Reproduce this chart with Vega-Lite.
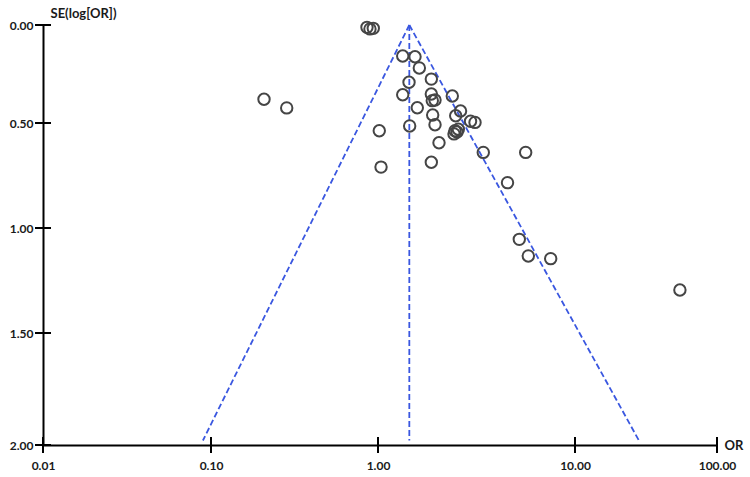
{
  "$schema": "https://vega.github.io/schema/vega-lite/v6.json",
  "width": 674,
  "height": 420,
  "autosize": "none",
  "padding": {"left": 43, "top": 25, "right": 33, "bottom": 32},
  "background": "white",
  "config": {"view": {"stroke": null}},
  "datasets": {
    "studies": [
      {"OR": 0.859, "SE": 0.012},
      {"OR": 0.895, "SE": 0.020},
      {"OR": 0.937, "SE": 0.017},
      {"OR": 1.335, "SE": 0.158},
      {"OR": 1.541, "SE": 0.162},
      {"OR": 1.621, "SE": 0.219},
      {"OR": 1.437, "SE": 0.292},
      {"OR": 1.865, "SE": 0.276},
      {"OR": 1.335, "SE": 0.356},
      {"OR": 1.865, "SE": 0.352},
      {"OR": 1.886, "SE": 0.386},
      {"OR": 1.947, "SE": 0.383},
      {"OR": 2.383, "SE": 0.362},
      {"OR": 1.583, "SE": 0.422},
      {"OR": 2.624, "SE": 0.439},
      {"OR": 1.895, "SE": 0.459},
      {"OR": 2.480, "SE": 0.463},
      {"OR": 2.949, "SE": 0.491},
      {"OR": 3.108, "SE": 0.497},
      {"OR": 1.448, "SE": 0.514},
      {"OR": 1.947, "SE": 0.508},
      {"OR": 1.015, "SE": 0.537},
      {"OR": 2.460, "SE": 0.537},
      {"OR": 2.518, "SE": 0.543},
      {"OR": 2.431, "SE": 0.552},
      {"OR": 2.557, "SE": 0.530},
      {"OR": 2.040, "SE": 0.594},
      {"OR": 3.423, "SE": 0.640},
      {"OR": 5.619, "SE": 0.640},
      {"OR": 1.036, "SE": 0.710},
      {"OR": 1.865, "SE": 0.687},
      {"OR": 4.544, "SE": 0.784},
      {"OR": 0.2077, "SE": 0.379},
      {"OR": 0.284, "SE": 0.423},
      {"OR": 5.215, "SE": 1.054},
      {"OR": 5.794, "SE": 1.133},
      {"OR": 7.527, "SE": 1.146},
      {"OR": 54.8, "SE": 1.295}
    ],
    "funnel": [
      {"line": "left", "OR": 1.442, "SE": 0},
      {"line": "left", "OR": 0.0895, "SE": 1.98},
      {"line": "right", "OR": 1.442, "SE": 0},
      {"line": "right", "OR": 28.2, "SE": 1.98},
      {"line": "mid", "OR": 1.442, "SE": 0},
      {"line": "mid", "OR": 1.442, "SE": 1.98}
    ],
    "xticks": [{"OR": 0.01}, {"OR": 0.1}, {"OR": 1}, {"OR": 10}, {"OR": 100}],
    "yticks": [{"SE": 0}, {"SE": 0.5}, {"SE": 1}, {"SE": 1.5}, {"SE": 2}]
  },
  "layer": [
    {
      "data": {"name": "funnel"},
      "mark": {"type": "line", "color": "#3a57e0", "strokeWidth": 1.8, "strokeDash": [6, 3]},
      "encoding": {
        "x": {
          "field": "OR", "type": "quantitative",
          "scale": {"type": "log", "domain": [0.01, 0.1, 1, 10, 100], "range": [0, 168, 335, 532, 674], "nice": false, "zero": false},
          "axis": {
            "title": "OR", "values": [0.01, 0.1, 1, 10, 100], "format": ".2f",
            "domainColor": "black", "domainWidth": 2, "ticks": false, "tickSize": 0,
            "labelPadding": 15, "labelFont": "Lato", "labelFontWeight": "bold", "labelFontSize": 12, "labelColor": "#1a1a1a",
            "labelFlush": false, "labelOverlap": false, "labelBound": false, "grid": false,
            "titleX": 681, "titleY": 0, "titleAlign": "left", "titleBaseline": "middle", "titleAnchor": "start",
            "titleFont": "Lato", "titleFontWeight": "bold", "titleFontSize": 13, "titleColor": "#1a1a1a"
          }
        },
        "y": {
          "field": "SE", "type": "quantitative",
          "scale": {"type": "linear", "domain": [0, 0.5, 1, 1.5, 2], "range": [0, 98, 203, 308, 420], "nice": false, "zero": false},
          "axis": {
            "title": "SE(log[OR])", "values": [0, 0.5, 1, 1.5, 2], "format": ".2f",
            "domainColor": "black", "domainWidth": 2, "ticks": false, "tickSize": 0,
            "labelPadding": 10, "labelFont": "Lato", "labelFontWeight": "bold", "labelFontSize": 12, "labelColor": "#1a1a1a",
            "labelFlush": false, "labelOverlap": false, "labelBound": false, "grid": false,
            "titleAngle": 0, "titleX": 7, "titleY": -12, "titleAlign": "left", "titleBaseline": "middle", "titleAnchor": "start",
            "titleFont": "Lato", "titleFontWeight": "bold", "titleFontSize": 13, "titleColor": "#1a1a1a"
          }
        },
        "detail": {"field": "line"},
        "order": {"field": "SE"}
      }
    },
    {
      "data": {"name": "studies"},
      "mark": {"type": "point", "shape": "circle", "filled": false, "stroke": "#454545", "strokeWidth": 2, "size": 130, "opacity": 1},
      "encoding": {
        "x": {"field": "OR", "type": "quantitative", "scale": {"type": "log", "domain": [0.01, 0.1, 1, 10, 100], "range": [0, 168, 335, 532, 674], "nice": false, "zero": false}},
        "y": {"field": "SE", "type": "quantitative", "scale": {"type": "linear", "domain": [0, 0.5, 1, 1.5, 2], "range": [0, 98, 203, 308, 420], "nice": false, "zero": false}}
      }
    },
    {
      "data": {"name": "xticks"},
      "mark": {"type": "tick", "orient": "vertical", "size": 16, "thickness": 2, "color": "black", "opacity": 1},
      "encoding": {
        "x": {"field": "OR", "type": "quantitative", "scale": {"type": "log", "domain": [0.01, 0.1, 1, 10, 100], "range": [0, 168, 335, 532, 674], "nice": false, "zero": false}},
        "y": {"datum": 2, "type": "quantitative", "scale": {"type": "linear", "domain": [0, 0.5, 1, 1.5, 2], "range": [0, 98, 203, 308, 420], "nice": false, "zero": false}}
      }
    },
    {
      "data": {"name": "yticks"},
      "mark": {"type": "tick", "orient": "horizontal", "size": 16, "thickness": 2, "color": "black", "opacity": 1},
      "encoding": {
        "x": {"datum": 0.01, "type": "quantitative", "scale": {"type": "log", "domain": [0.01, 0.1, 1, 10, 100], "range": [0, 168, 335, 532, 674], "nice": false, "zero": false}},
        "y": {"field": "SE", "type": "quantitative", "scale": {"type": "linear", "domain": [0, 0.5, 1, 1.5, 2], "range": [0, 98, 203, 308, 420], "nice": false, "zero": false}}
      }
    }
  ]
}
